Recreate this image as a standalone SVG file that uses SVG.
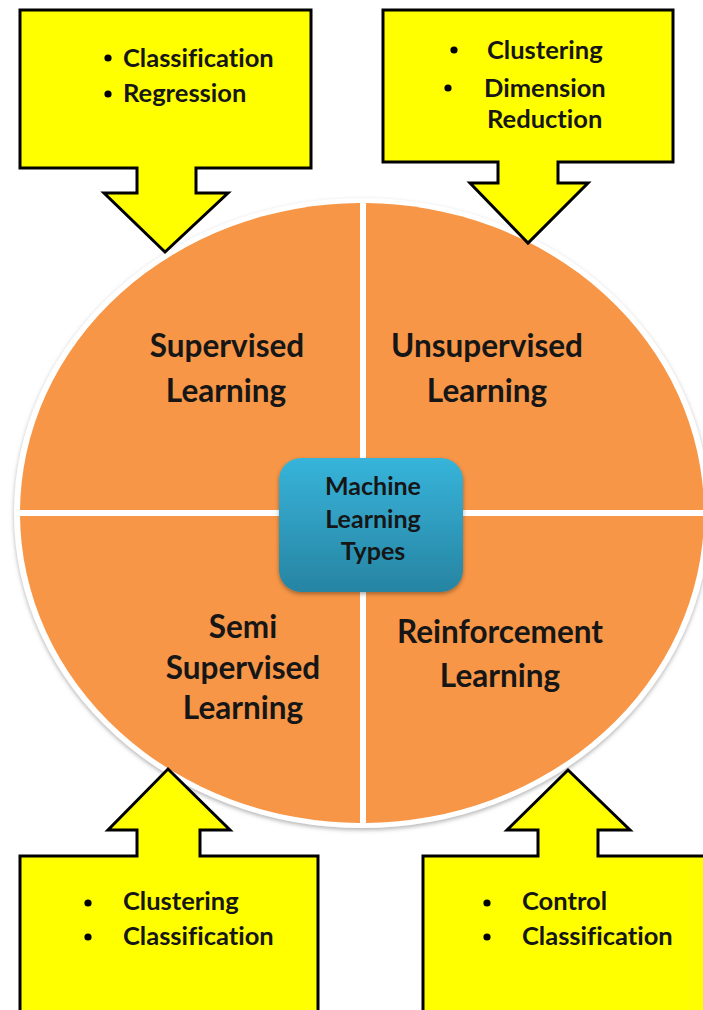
<svg xmlns="http://www.w3.org/2000/svg" width="703" height="1010" viewBox="0 0 703 1010">
  <defs>
    <linearGradient id="boxGrad" x1="0" y1="0" x2="0" y2="1">
      <stop offset="0" stop-color="#37b4da"/>
      <stop offset="1" stop-color="#2784a2"/>
    </linearGradient>
    <filter id="rimShadow" x="-10%" y="-10%" width="120%" height="120%">
      <feDropShadow dx="0" dy="2" stdDeviation="2.2" flood-color="#808080" flood-opacity="0.6"/>
    </filter>
    <filter id="boxShadow" x="-10%" y="-10%" width="120%" height="130%">
      <feDropShadow dx="0" dy="2" stdDeviation="2" flood-color="#000" flood-opacity="0.35"/>
    </filter>
    <clipPath id="qTL"><rect x="0" y="0" width="360" height="510"/></clipPath>
    <clipPath id="qTR"><rect x="366" y="0" width="400" height="510"/></clipPath>
    <clipPath id="qBL"><rect x="0" y="516" width="360" height="500"/></clipPath>
    <clipPath id="qBR"><rect x="366" y="516" width="400" height="500"/></clipPath>
  </defs>
  <style>
    .quad { fill: #f79646; }
    .callout { fill: #ffff00; stroke: #000; stroke-width: 3; stroke-linejoin: miter; }
    .lbl { font-family: Lato, "Liberation Sans", sans-serif; font-weight: bold; fill: #161616; font-variant-ligatures: none; }
    .big { font-size: 31.5px; text-anchor: middle; }
    .item { font-size: 25.5px; }
    .core { font-size: 25px; text-anchor: middle; }
    .dot { fill: #000; }
  </style>

  <!-- Wheel: white rim with soft shadow, four orange quadrants -->
  <g id="wheel">
    <ellipse cx="362" cy="513" rx="348" ry="315" fill="#fff" filter="url(#rimShadow)"/>
    <g id="quadrant-supervised">
      <ellipse class="quad" cx="362" cy="513" rx="342" ry="310" clip-path="url(#qTL)"/>
      <text class="lbl big" x="227" y="357">Supervised</text>
      <text class="lbl big" x="226" y="402">Learning</text>
    </g>
    <g id="quadrant-unsupervised">
      <ellipse class="quad" cx="362" cy="513" rx="342" ry="310" clip-path="url(#qTR)"/>
      <text class="lbl big" x="487" y="357">Unsupervised</text>
      <text class="lbl big" x="487" y="402">Learning</text>
    </g>
    <g id="quadrant-semi">
      <ellipse class="quad" cx="362" cy="513" rx="342" ry="310" clip-path="url(#qBL)"/>
      <text class="lbl big" x="243" y="638">Semi</text>
      <text class="lbl big" x="243" y="679">Supervised</text>
      <text class="lbl big" x="243" y="719">Learning</text>
    </g>
    <g id="quadrant-reinforcement">
      <ellipse class="quad" cx="362" cy="513" rx="342" ry="310" clip-path="url(#qBR)"/>
      <text class="lbl big" x="500" y="643">Reinforcement</text>
      <text class="lbl big" x="500" y="687">Learning</text>
    </g>
  </g>

  <!-- Centre hub -->
  <g id="hub">
    <rect x="279" y="458" width="184" height="134" rx="22" fill="url(#boxGrad)" filter="url(#boxShadow)"/>
    <text class="lbl core" x="373" y="495">Machine</text>
    <text class="lbl core" x="373" y="528">Learning</text>
    <text class="lbl core" x="373" y="560">Types</text>
  </g>

  <!-- Callout arrows pointing at the wheel -->
  <g id="connectors">
    <g id="callout-supervised">
      <path class="callout" d="M20,10 H311 V168 H196 V193 H228 L165,252 L104,193 H137 V168 H20 Z"/>
      <circle class="dot" cx="108" cy="58" r="3.6"/>
      <circle class="dot" cx="108" cy="94" r="3.6"/>
      <text class="lbl item" x="123" y="67">Classification</text>
      <text class="lbl item" x="123" y="102">Regression</text>
    </g>
    <g id="callout-unsupervised">
      <path class="callout" d="M383,10 H673 V162 H558 V183 H588 L528,243 L470,183 H498 V162 H383 Z"/>
      <circle class="dot" cx="454" cy="50" r="3.6"/>
      <circle class="dot" cx="448" cy="88" r="3.6"/>
      <text class="lbl item" x="487" y="59">Clustering</text>
      <text class="lbl item" x="484" y="97">Dimension</text>
      <text class="lbl item" x="487" y="128">Reduction</text>
    </g>
    <g id="callout-semi">
      <path class="callout" d="M20,1016 V856 H137 V830 H108 L168,769 L230,830 H200 V856 H318 V1016 Z"/>
      <circle class="dot" cx="88" cy="903" r="3.6"/>
      <circle class="dot" cx="88" cy="937" r="3.6"/>
      <text class="lbl item" x="123" y="910">Clustering</text>
      <text class="lbl item" x="123" y="945">Classification</text>
    </g>
    <g id="callout-reinforcement">
      <path class="callout" d="M423,1016 V856 H538 V830 H507 L568,770 L630,830 H598 V856 H712 V1016 Z"/>
      <circle class="dot" cx="487" cy="903" r="3.6"/>
      <circle class="dot" cx="487" cy="937" r="3.6"/>
      <text class="lbl item" x="522" y="910">Control</text>
      <text class="lbl item" x="522" y="945">Classification</text>
    </g>
  </g>
</svg>
